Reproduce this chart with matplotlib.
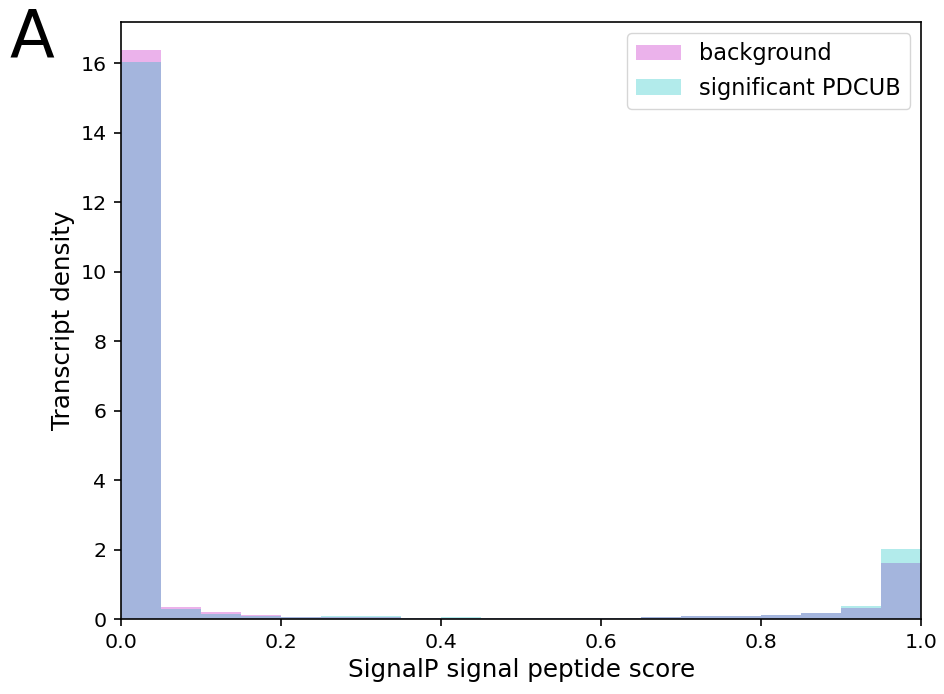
import numpy as np
import matplotlib.pyplot as plt

# histogram bins (SignalP score, 20 bins of width 0.05)
bin_edges = np.linspace(0, 1, 21)

# density per bin
background = [16.38, 0.34, 0.19, 0.115, 0.07, 0.06, 0.05, 0.04, 0.035, 0.03,
              0.03, 0.03, 0.03, 0.06, 0.075, 0.085, 0.11, 0.16, 0.31, 1.62]
significant = [16.02, 0.28, 0.15, 0.095, 0.06, 0.10, 0.08, 0.04, 0.045, 0.03,
               0.03, 0.03, 0.03, 0.06, 0.075, 0.085, 0.12, 0.16, 0.37, 2.01]

labels = ['background', 'significant PDCUB']

s = 1.475  # scale factor of the original render
plt.rcParams['font.size'] = 10 * s
plt.rcParams['axes.linewidth'] = 0.8 * s
plt.rcParams['xtick.major.width'] = 0.8 * s
plt.rcParams['ytick.major.width'] = 0.8 * s
plt.rcParams['xtick.major.size'] = 3.5 * s
plt.rcParams['ytick.major.size'] = 3.5 * s
plt.rcParams['xtick.major.pad'] = 3.5 * s
plt.rcParams['ytick.major.pad'] = 3.5 * s

fig = plt.figure(figsize=(9.44, 6.94), dpi=100)
ax = fig.add_axes([0.128, 0.108, 0.848, 0.8603])

centers = (bin_edges[:-1] + bin_edges[1:]) / 2
ax.hist(centers, bins=bin_edges, weights=background, color='m', alpha=0.3, label=labels[0])
ax.hist(centers, bins=bin_edges, weights=significant, color='c', alpha=0.3, label=labels[1])

ax.set_xlim(0, 1)
ax.set_ylim(0, 17.18)
ax.set_yticks(np.arange(0, 17, 2))
ax.set_xlabel('SignalP signal peptide score', fontsize=12 * s)
ax.set_ylabel('Transcript density', fontsize=12 * s)
ax.legend(loc='upper right', fontsize=11 * s)

fig.text(0.01, 0.918, 'A', fontsize=32 * s)

plt.savefig('out.png', dpi=100)
